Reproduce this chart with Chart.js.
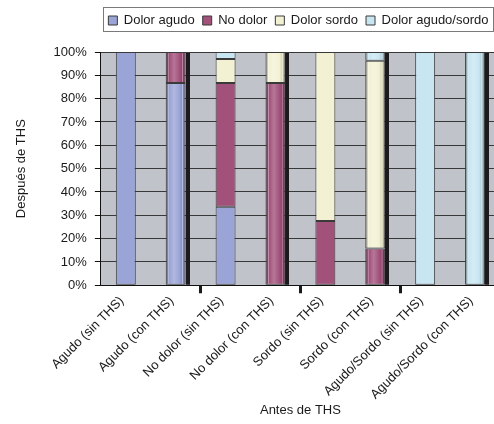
<!DOCTYPE html>
<html>
<head>
<meta charset="utf-8">
<script src="https://cdn.jsdelivr.net/npm/chart.js@4"></script>
<style>
  html, body { margin: 0; padding: 0; background: #fff; overflow: hidden; width: 494px; height: 424px; }
  #wrap { width: 500px; height: 424px; position: relative; }
</style>
</head>
<body>
<div id="wrap"><canvas id="c"></canvas></div>
<script>
// Pain type before hormone therapy (x) vs. after (stacked share, %)
const categories = [
  'Agudo (sin THS)', 'Agudo (con THS)',
  'No dolor (sin THS)', 'No dolor (con THS)',
  'Sordo (sin THS)', 'Sordo (con THS)',
  'Agudo/Sordo (sin THS)', 'Agudo/Sordo (con THS)'
];
const seriesNames = ['Dolor agudo', 'No dolor', 'Dolor sordo', 'Dolor agudo/sordo'];
const dolorAgudo  = [100, 86.7, 33.7, 0,    0,    0,    0,   0];
const noDolor     = [0,   13.3, 53.0, 86.7, 27.5, 15.8, 0,   0];
const dolorSordo  = [0,   0,    10.3, 13.3, 72.5, 80.5, 0,   0];
const agudoSordo  = [0,   0,    3.0,  0,    0,    3.7,  100, 100];
const yTickValues = [0, 10, 20, 30, 40, 50, 60, 70, 80, 90, 100];
const yTickLabels = ['0%', '10%', '20%', '30%', '40%', '50%', '60%', '70%', '80%', '90%', '100%'];

const seriesColors = ['#9aa4d6', '#a2517b', '#f3f1d3', '#c8e6f2'];
const BAR_FRACTION = 0.4;
const LEGEND_GAP = 15;
const FONT = "'Liberation Sans', Arial, Helvetica, sans-serif";

function mix(hex, f) {
  const n = parseInt(hex.slice(1), 16);
  let r = n >> 16, g = (n >> 8) & 255, b = n & 255;
  const t = f < 0 ? 0 : 255, p = Math.abs(f);
  r = Math.round(r + (t - r) * p);
  g = Math.round(g + (t - g) * p);
  b = Math.round(b + (t - b) * p);
  return `rgb(${r},${g},${b})`;
}

const isShaded = i => categories[i].includes('con THS');

// Cylinder-style horizontal gradient for the "con THS" columns
function barFill(base) {
  return ctx => {
    const chart = ctx.chart;
    if (ctx.type !== 'data' || !chart.chartArea || !isShaded(ctx.dataIndex)) return base;
    const xs = chart.scales.x;
    const c = xs.getPixelForValue(ctx.dataIndex);
    const w = xs.width / categories.length * BAR_FRACTION;
    const g = chart.ctx.createLinearGradient(c - w / 2, 0, c + w / 2, 0);
    g.addColorStop(0.00, mix(base, -0.55));
    g.addColorStop(0.10, mix(base, -0.18));
    g.addColorStop(0.15, mix(base, 0.35));
    g.addColorStop(0.19, mix(base, 0.0));
    g.addColorStop(0.42, mix(base, 0.22));
    g.addColorStop(0.70, mix(base, 0.0));
    g.addColorStop(0.80, mix(base, -0.1));
    g.addColorStop(0.84, mix(base, 0.3));
    g.addColorStop(0.88, mix(base, -0.18));
    g.addColorStop(1.00, mix(base, -0.55));
    return g;
  };
}

const seriesValues = [dolorAgudo, noDolor, dolorSordo, agudoSordo];
const datasets = seriesNames.map((name, s) => ({
  label: name,
  data: seriesValues[s].map(v => (v > 0 ? v : null)),
  backgroundColor: barFill(seriesColors[s]),
  borderColor: '#3a3a3a',
  borderWidth: 1,
  borderSkipped: false,
  barPercentage: BAR_FRACTION,
  categoryPercentage: 1.0
}));

// gray plotting area
const plotBackground = {
  id: 'plotBackground',
  beforeDraw(chart) {
    const { ctx, chartArea: a } = chart;
    ctx.save();
    ctx.fillStyle = '#c0c3c9';
    ctx.fillRect(a.left, a.top, a.right - a.left, a.bottom - a.top);
    ctx.restore();
  }
};

// extra room under the legend, and legend centred over the plotting area
const legendPlacement = {
  id: 'legendPlacement',
  beforeLayout(chart) {
    const lg = chart.legend;
    if (lg && !lg.__gapAdded) {
      const fit = lg.fit.bind(lg);
      lg.fit = function () { fit(); this.height += LEGEND_GAP; };
      lg.__gapAdded = true;
    }
  },
  afterLayout(chart) {
    const lg = chart.legend, a = chart.chartArea;
    if (!lg || !a) return;
    const dx = (a.left + a.right) / 2 - (lg.left + lg.right) / 2 - 2;
    lg.left += dx;
    lg.right += dx;
  }
};

// dark side shadow on the "con THS" columns
const barShadow = {
  id: 'barShadow',
  beforeDatasetsDraw(chart) {
    const ctx = chart.ctx;
    ctx.save();
    ctx.fillStyle = '#1c1a1c';
    categories.forEach((cat, i) => {
      if (!isShaded(i)) return;
      let top = Infinity, base = -Infinity, x = null, w = null;
      chart.data.datasets.forEach((ds, d) => {
        const el = chart.getDatasetMeta(d).data[i];
        if (!el || ds.data[i] == null) return;
        top = Math.min(top, el.y);
        base = Math.max(base, el.base);
        x = el.x; w = el.width;
      });
      if (x === null) return;
      ctx.fillRect(Math.round(x + w / 2), top + 1, 4, base - top - 1);
    });
    ctx.restore();
  }
};

// frame round the legend
const legendFrame = {
  id: 'legendFrame',
  afterDraw(chart) {
    const boxes = chart.legend && chart.legend.legendHitBoxes;
    if (!boxes || !boxes.length) return;
    let l = Infinity, r = -Infinity, t = Infinity, b = -Infinity;
    boxes.forEach(h => {
      l = Math.min(l, h.left); r = Math.max(r, h.left + h.width);
      t = Math.min(t, h.top); b = Math.max(b, h.top + h.height);
    });
    const ctx = chart.ctx;
    ctx.save();
    ctx.strokeStyle = '#7a7a7a';
    ctx.lineWidth = 1;
    ctx.strokeRect(Math.round(l - 5) + 0.5, Math.round(t - 7) + 0.5, Math.round(r - l + 10), Math.round(b - t + 11));
    ctx.restore();
  }
};

new Chart(document.getElementById('c'), {
  type: 'bar',
  data: { labels: categories, datasets },
  plugins: [plotBackground, legendPlacement, barShadow, legendFrame],
  options: {
    responsive: true,
    maintainAspectRatio: false,
    animation: false,
    layout: { padding: { left: 4, top: 6, right: 0, bottom: 4 } },
    plugins: {
      tooltip: { enabled: false },
      legend: {
        position: 'top',
        labels: {
          font: { family: FONT, size: 13 },
          color: '#1a1a1a',
          boxWidth: 9,
          boxHeight: 9,
          padding: 8
        }
      }
    },
    scales: {
      x: {
        stacked: true,
        grid: {
          offset: true,
          drawOnChartArea: false,
          tickLength: 8,
          tickWidth: 3,
          tickColor: c => (c.index > 0 && c.index < categories.length && c.index % 2 === 0) ? '#1a1a1a' : 'rgba(0,0,0,0)'
        },
        border: { color: '#111', width: 1 },
        ticks: {
          font: { family: FONT, size: 13 },
          color: '#1a1a1a',
          minRotation: 45,
          maxRotation: 45,
          padding: 0,
          labelOffset: -4,
          autoSkip: false
        },
        title: {
          display: true,
          text: 'Antes de THS',
          font: { family: FONT, size: 13 },
          color: '#1a1a1a',
          padding: { top: 0, bottom: 2 }
        }
      },
      y: {
        stacked: true,
        min: 0,
        max: 100,
        afterBuildTicks: axis => { axis.ticks = yTickValues.map(v => ({ value: v })); },
        grid: {
          color: '#383838',
          lineWidth: 1,
          tickLength: 6,
          tickColor: '#111'
        },
        border: { color: '#111', width: 1 },
        ticks: {
          font: { family: FONT, size: 13 },
          color: '#1a1a1a',
          padding: 8,
          callback: (v, i) => yTickLabels[i]
        },
        title: {
          display: true,
          text: 'Después de THS',
          font: { family: FONT, size: 13 },
          color: '#1a1a1a',
          padding: { top: 10, bottom: 16 }
        }
      }
    }
  }
});
</script>
</body>
</html>
